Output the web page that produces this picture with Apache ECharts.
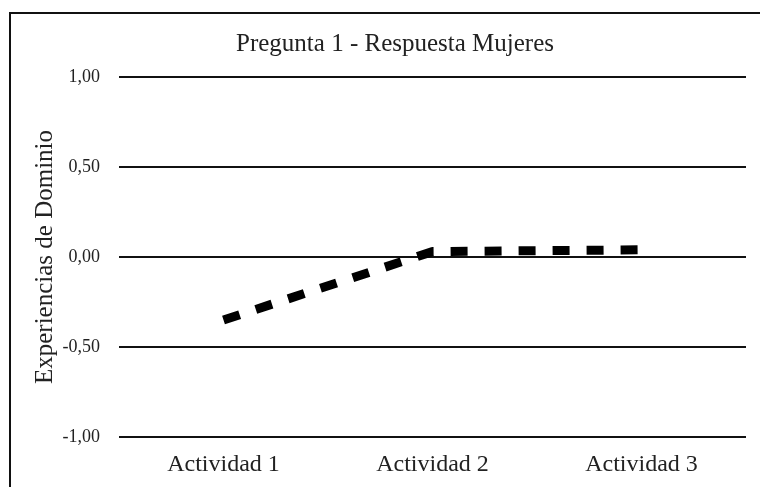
<!DOCTYPE html>
<html>
<head>
<meta charset="utf-8">
<script src="https://cdn.jsdelivr.net/npm/echarts@6/dist/echarts.min.js"></script>
<style>
  html, body { margin: 0; padding: 0; background: #fff; }
  #chart { width: 760px; height: 487px; }
</style>
</head>
<body>
<div id="chart"></div>
<script>
const categories = ["Actividad 1", "Actividad 2", "Actividad 3"];
const mujeres = [-0.35, 0.03, 0.04];
const titleText = "Pregunta 1 - Respuesta Mujeres";
const yName = "Experiencias de Dominio";

const chart = echarts.init(document.getElementById("chart"));
const serif = "'Liberation Serif', 'DejaVu Serif', serif";

chart.setOption({
  backgroundColor: "#fff",
  animation: false,
  title: {
    text: titleText,
    left: 390,
    top: 27,
    textAlign: "center",
    textStyle: { fontFamily: serif, fontSize: 25, fontWeight: "normal", color: "#222" }
  },
  grid: { left: 119, right: 14, top: 77, bottom: 50 },
  xAxis: {
    type: "category",
    data: categories,
    axisLine: { show: false },
    axisTick: { show: false },
    axisLabel: { fontFamily: serif, fontSize: 24, color: "#222", margin: 16 }
  },
  yAxis: {
    type: "value",
    min: -1,
    max: 1,
    interval: 0.5,
    name: yName,
    nameLocation: "middle",
    nameGap: 61,
    nameMoveOverlap: false,
    nameTextStyle: { fontFamily: serif, fontSize: 25, color: "#222" },
    axisLine: { show: false },
    axisTick: { show: false },
    axisLabel: {
      fontFamily: serif, fontSize: 18, color: "#222", margin: 19,
      formatter: v => v.toFixed(2).replace(".", ",")
    },
    splitLine: { lineStyle: { color: "#111", width: 2 } }
  },
  series: [{
    type: "line",
    data: mujeres,
    symbol: "none",
    lineStyle: { color: "#000", width: 9, type: [17, 17], cap: "butt" }
  }],
  graphic: [{
    type: "rect",
    shape: { x: 10, y: 13, width: 800, height: 520 },
    style: { fill: null, stroke: "#111", lineWidth: 2 },
    silent: true
  }]
});

window.addEventListener("resize", () => chart.resize());
</script>
</body>
</html>
